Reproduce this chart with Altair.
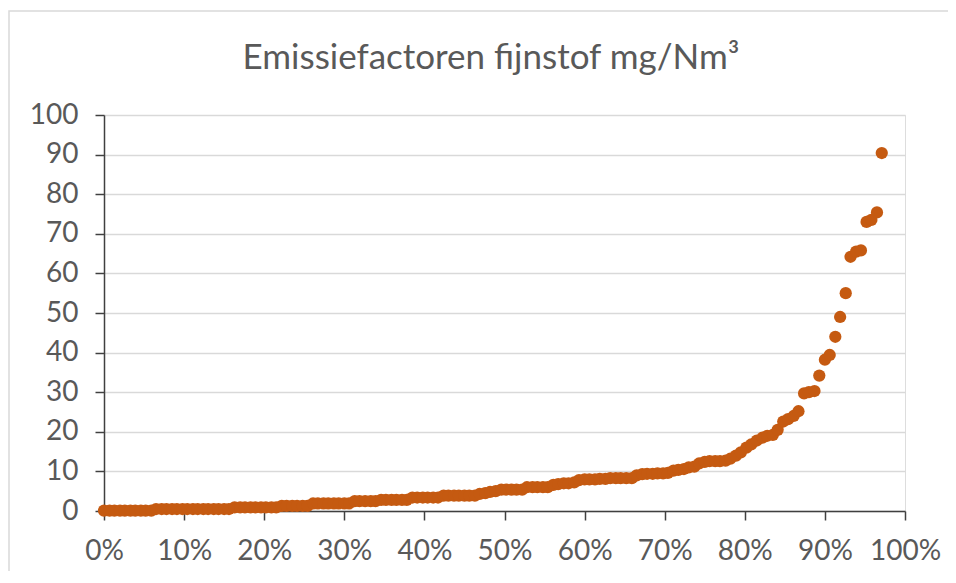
import altair as alt
import pandas as pd

TITLE = "Emissiefactoren fijnstof mg/Nm³"

# percentile rank of each measurement (%)
rank_pct = [
    0.0, 0.7, 1.3, 2.0, 2.6, 3.3, 3.9, 4.6, 5.2, 5.9,
    6.5, 7.2, 7.8, 8.5, 9.1, 9.8, 10.4, 11.1, 11.7, 12.4,
    13.0, 13.7, 14.3, 15.0, 15.6, 16.3, 17.0, 17.6, 18.3, 18.9,
    19.6, 20.2, 20.9, 21.5, 22.2, 22.8, 23.5, 24.1, 24.8, 25.4,
    26.1, 26.7, 27.4, 28.0, 28.7, 29.3, 30.0, 30.6, 31.3, 31.9,
    32.6, 33.3, 33.9, 34.6, 35.2, 35.9, 36.5, 37.2, 37.8, 38.5,
    39.1, 39.8, 40.4, 41.1, 41.7, 42.4, 43.0, 43.7, 44.3, 45.0,
    45.6, 46.3, 46.9, 47.6, 48.2, 48.9, 49.6, 50.2, 50.9, 51.5,
    52.2, 52.8, 53.5, 54.1, 54.8, 55.4, 56.1, 56.7, 57.4, 58.0,
    58.7, 59.3, 60.0, 60.6, 61.3, 61.9, 62.6, 63.2, 63.9, 64.5,
    65.2, 65.9, 66.5, 67.2, 67.8, 68.5, 69.1, 69.8, 70.4, 71.1,
    71.7, 72.4, 73.0, 73.7, 74.3, 75.0, 75.6, 76.3, 76.9, 77.6,
    78.2, 78.9, 79.5, 80.2, 80.8, 81.5, 82.2, 82.8, 83.5, 84.1,
    84.8, 85.4, 86.1, 86.7, 87.4, 88.0, 88.7, 89.3, 90.0, 90.6,
    91.3, 91.9, 92.6, 93.2, 93.9, 94.5, 95.2, 95.8, 96.5, 97.1,
]

# emission factor, mg/Nm3
emission = [
    0.1, 0.1, 0.1, 0.1, 0.1, 0.1, 0.1, 0.1, 0.1, 0.1,
    0.5, 0.5, 0.5, 0.5, 0.5, 0.5, 0.5, 0.5, 0.5, 0.5,
    0.5, 0.5, 0.5, 0.5, 0.5, 0.9, 0.9, 0.9, 0.9, 0.9,
    0.9, 0.9, 0.9, 0.9, 1.3, 1.3, 1.3, 1.3, 1.3, 1.3,
    1.9, 1.9, 1.9, 1.9, 1.9, 1.9, 1.9, 1.9, 2.5, 2.5,
    2.5, 2.5, 2.5, 2.8, 2.8, 2.8, 2.8, 2.8, 2.8, 3.4,
    3.4, 3.4, 3.4, 3.4, 3.4, 3.9, 3.9, 3.9, 3.9, 3.9,
    3.9, 3.9, 4.3, 4.5, 4.8, 5.0, 5.4, 5.4, 5.4, 5.4,
    5.4, 6.0, 6.0, 6.0, 6.0, 6.0, 6.6, 6.8, 7.0, 7.0,
    7.2, 7.8, 8.0, 8.0, 8.0, 8.1, 8.1, 8.3, 8.3, 8.3,
    8.3, 8.3, 9.0, 9.3, 9.4, 9.4, 9.5, 9.5, 9.6, 10.2,
    10.4, 10.6, 11.0, 11.2, 12.0, 12.4, 12.6, 12.6, 12.6, 12.7,
    13.2, 14.0, 14.8, 16.0, 16.8, 17.8, 18.5, 19.0, 19.2, 20.5,
    22.6, 23.2, 24.0, 25.2, 29.7, 30.0, 30.3, 34.2, 38.2, 39.4,
    44.0, 49.0, 55.0, 64.2, 65.5, 65.8, 73.0, 73.5, 75.4, 90.4,
]

x_ticks = [0, 10, 20, 30, 40, 50, 60, 70, 80, 90, 100]
y_ticks = [0, 10, 20, 30, 40, 50, 60, 70, 80, 90, 100]

df = pd.DataFrame({"rank": rank_pct, "value": emission})

FONT = "Lato"
GREY_TEXT = "#595959"

points = alt.Chart(df).mark_circle(size=150, opacity=1, color="#C55A11").encode(
    x=alt.X(
        "rank:Q",
        scale=alt.Scale(domain=[0, 100], nice=False, zero=True),
        axis=alt.Axis(
            values=x_ticks,
            labelExpr="datum.value + '%'",
            labelOverlap=False,
            labelFlush=False,
            title=None,
            grid=False,
            domainColor="#404040",
            domainWidth=1.5,
            tickColor="#404040",
            tickWidth=1.5,
            tickSize=9,
            labelPadding=17,
            labelFont=FONT,
            labelFontSize=28,
            labelColor=GREY_TEXT,
        ),
    ),
    y=alt.Y(
        "value:Q",
        scale=alt.Scale(domain=[0, 100], nice=False),
        axis=alt.Axis(
            values=y_ticks,
            labelOverlap=False,
            labelFlush=False,
            title=None,
            grid=True,
            gridColor="#d9d9d9",
            gridWidth=1.3,
            domainColor="#404040",
            domainWidth=1.5,
            tickColor="#404040",
            tickWidth=1.5,
            tickSize=9,
            labelPadding=17,
            labelFont=FONT,
            labelFontSize=28,
            labelColor=GREY_TEXT,
        ),
    ),
)

border = alt.Chart(pd.DataFrame({"k": [0]})).mark_rect(
    fill=None, stroke="#d9d9d9", strokeWidth=1.5, clip=False
).encode(
    x=alt.value(-95), x2=alt.value(860), y=alt.value(-104), y2=alt.value(480)
)

title = alt.Chart(pd.DataFrame({"t": [TITLE]})).mark_text(
    font=FONT,
    fontSize=35,
    color=GREY_TEXT,
    align="center",
    baseline="alphabetic",
).encode(text="t:N", x=alt.value(387), y=alt.value(-46))

chart = (
    alt.layer(border, title, points)
    .properties(
        width=801,
        height=396,
        autosize=alt.AutoSizeParams(type="none"),
        padding={"left": 96, "top": 107, "right": 43, "bottom": 60},
    )
    .configure_view(stroke=None)
    .configure(background="white")
)

chart.save("out.html", embed_options={"renderer": "svg", "actions": False})
